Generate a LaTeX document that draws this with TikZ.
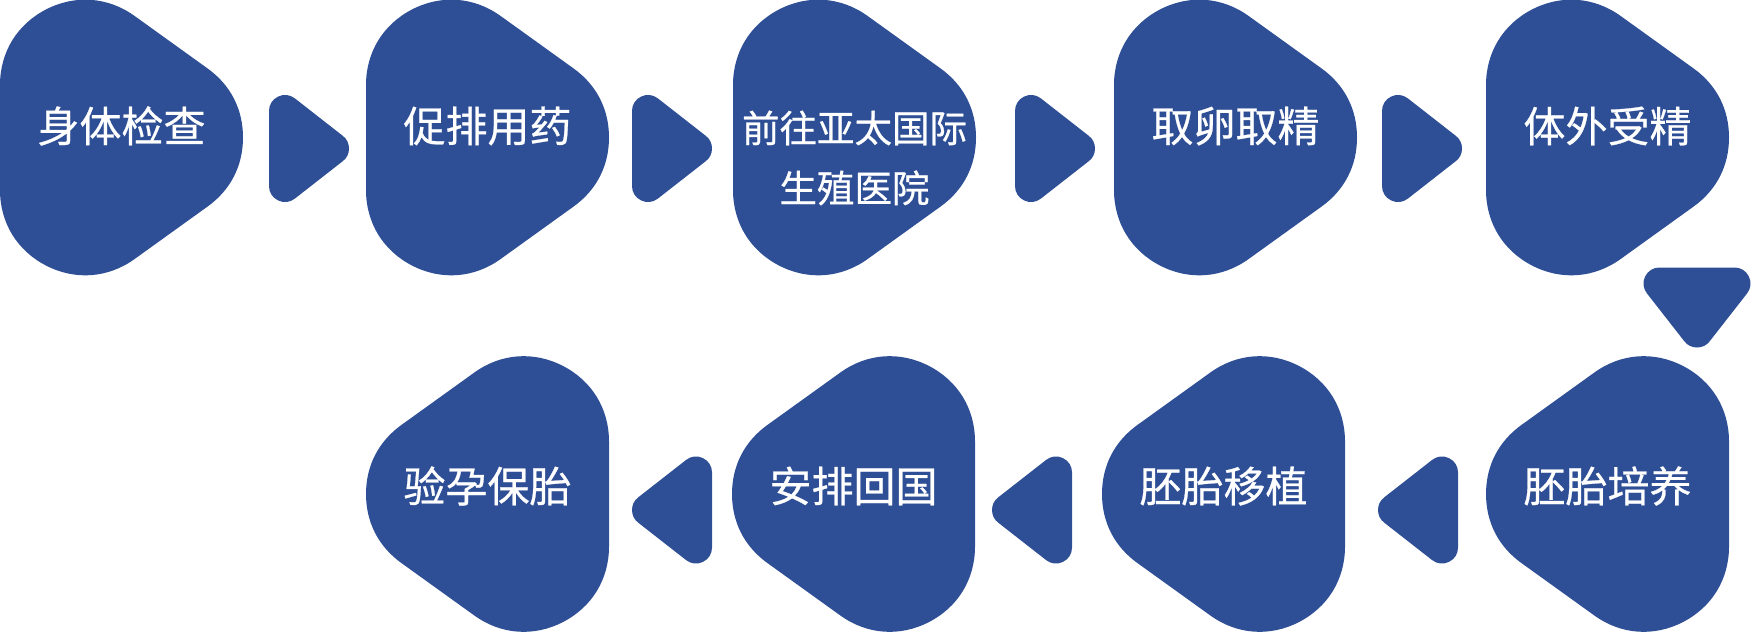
\documentclass[tikz,border=0pt]{standalone}
\usepackage{fontspec}
\newfontfamily\cjk{Noto Sans CJK SC}[FakeBold=0.6]
\definecolor{stepblue}{RGB}{46,79,150}

\begin{document}
\begin{tikzpicture}[
  x=1pt, y=-1pt,
  blob/.style={fill=stepblue, draw=stepblue, line width=170pt, line join=round},
  tri/.style={fill=stepblue, draw=stepblue, line width=32pt, line join=round},
  steptxt/.style={text=white, font=\cjk\fontsize{42}{50}\selectfont, align=center, inner sep=0pt},
  steptxttwo/.style={text=white, font=\cjk\fontsize{37.5}{60}\selectfont, align=center, inner sep=0pt},
  rblob/.pic={\path[blob] (-36.5,-52.5) -- (-36.5,52.5) -- (36.5,0) -- cycle;},
  lblob/.pic={\path[blob] (36.5,-52.5) -- (36.5,52.5) -- (-36.5,0) -- cycle;},
  rtri/.pic={\path[tri] (-24,-37.5) -- (-24,37.5) -- (24,0) -- cycle;},
  ltri/.pic={\path[tri] (24,-37.5) -- (24,37.5) -- (-24,0) -- cycle;},
  dtri/.pic={\path[tri] (-37.5,-24) -- (37.5,-24) -- (0,24) -- cycle;}
]
\useasboundingbox (0,0) rectangle (1752,632);

% top row
\pic at (121.5,137.5) {rblob};
\node[steptxt] (check) at (121.5,126) {身体检查};
\pic at (487.5,137.5) {rblob};
\node[steptxt] (drug) at (487.5,126) {促排用药};
\pic at (854.5,137.5) {rblob};
\node[steptxttwo] (clinic) at (854.5,158) {前往亚太国际\\生殖医院};
\pic at (1235.5,137.5) {rblob};
\node[steptxt] (retrieve) at (1235.5,126) {取卵取精};
\pic at (1607.5,137.5) {rblob};
\node[steptxt] (ivf) at (1607.5,126) {体外受精};

% bottom row
\pic at (1607.5,494) {lblob};
\node[steptxt] (culture) at (1607.5,486) {胚胎培养};
\pic at (1223.5,494) {lblob};
\node[steptxt] (transfer) at (1223.5,486) {胚胎移植};
\pic at (853.5,494) {lblob};
\node[steptxt] (home) at (853.5,486) {安排回国};
\pic at (487.5,494) {lblob};
\node[steptxt] (test) at (487.5,486) {验孕保胎};

% arrows
\pic at (309,148.5) {rtri};
\pic at (672,148.5) {rtri};
\pic at (1055,148.5) {rtri};
\pic at (1422,148.5) {rtri};
\pic at (1697,307.5) {dtri};
\pic at (1418,510) {ltri};
\pic at (1032,510) {ltri};
\pic at (672,510) {ltri};
\end{tikzpicture}
\end{document}
